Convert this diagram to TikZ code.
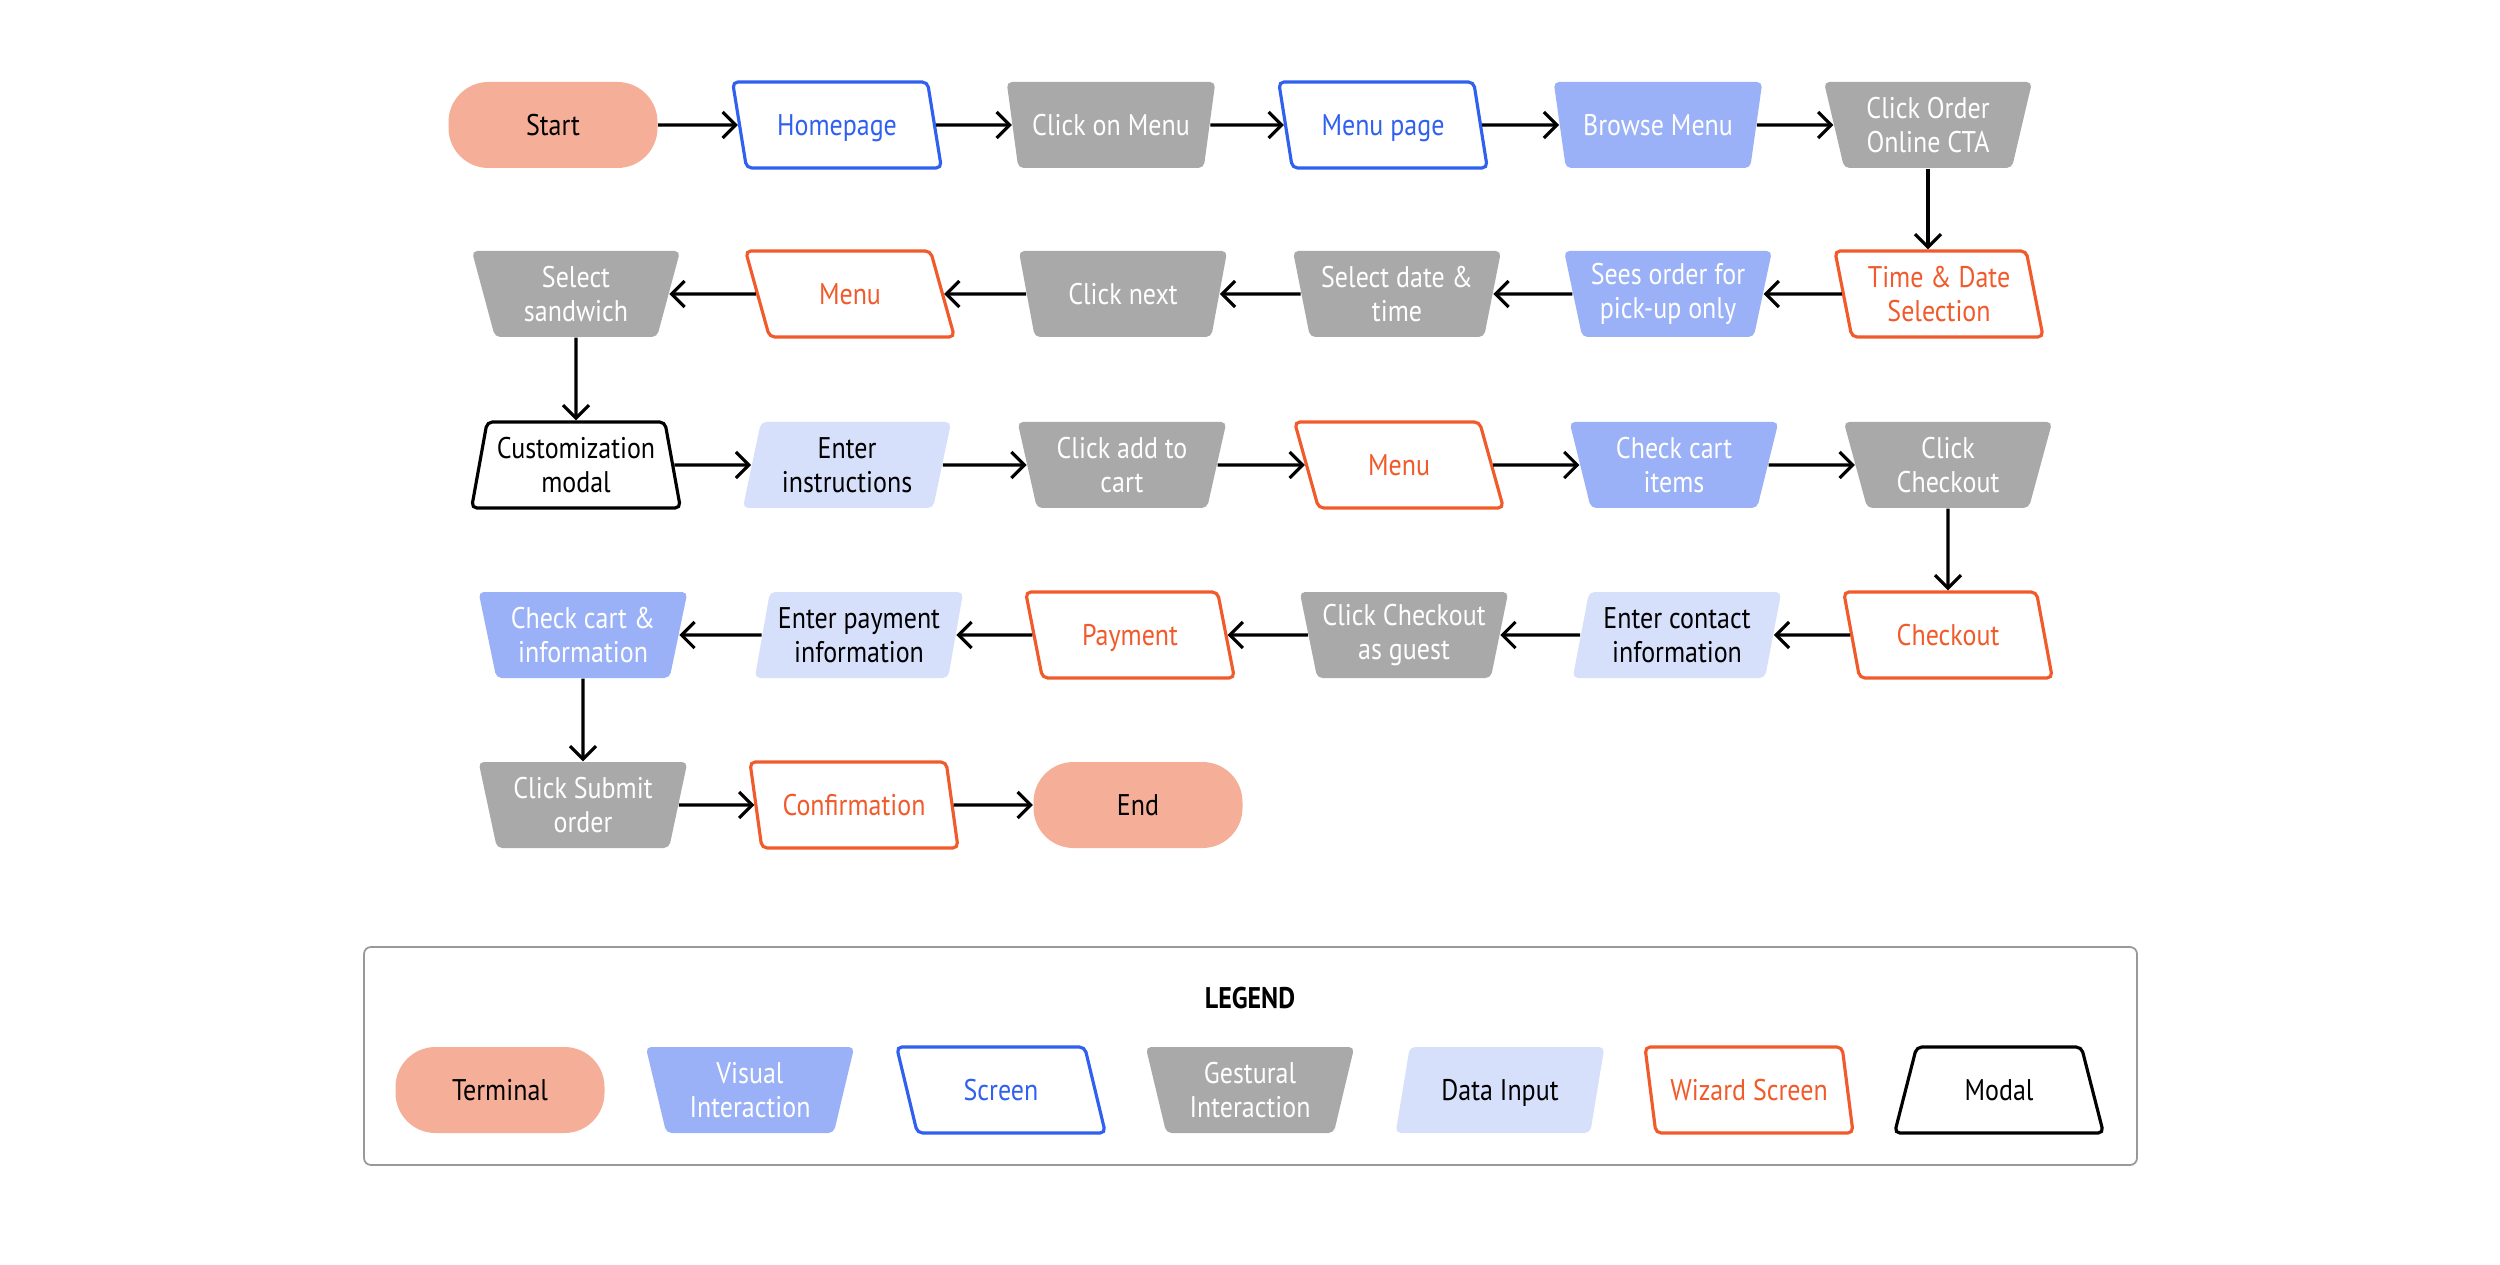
\documentclass[tikz,border=0pt]{standalone}
\usepackage{fontspec}
\setmainfont{PT Sans}[FakeStretch=0.87]
\usepackage{xcolor}
\usetikzlibrary{arrows.meta,shapes.geometric}
\definecolor{terminalfill}{HTML}{F5AF98}
\definecolor{visualfill}{HTML}{9AB1F7}
\definecolor{screenblue}{HTML}{3060F0}
\definecolor{gesturalgray}{HTML}{A9A9A9}
\definecolor{datafill}{HTML}{D7E0FB}
\definecolor{wizardorange}{HTML}{F15A2B}
\tikzset{
    >={Straight Barb[length=1.3mm,width=2.6mm]} % Default arrow tip
}
\tikzstyle{box}=[
    minimum width = 2.09cm,
    minimum height = 0.86cm,
    inner sep = 0cm,
    align = center,
    font = \fontsize{8.5}{9.6}\selectfont,
    rounded corners = 1.5pt
]
\tikzstyle{oneline}=[text height = 8.3pt, text depth = 2.2pt]
\tikzstyle{terminal}=[box, rectangle, rounded corners = 0.4cm, fill = terminalfill, text = black]
\tikzstyle{slanted}=[box, trapezium, trapezium stretches = true]
\tikzstyle{visual}=[slanted, trapezium left angle = 105, trapezium right angle = 105, fill = visualfill, text = white]
\tikzstyle{screen}=[slanted, trapezium left angle = 104, trapezium right angle = 76, draw = screenblue, line width = 0.9pt, fill = white, text = screenblue]
\tikzstyle{gestural}=[slanted, trapezium left angle = 105, trapezium right angle = 105, fill = gesturalgray, text = white]
\tikzstyle{datainput}=[slanted, trapezium left angle = 76, trapezium right angle = 104, fill = datafill, text = black]
\tikzstyle{wizard}=[slanted, trapezium left angle = 104, trapezium right angle = 76, draw = wizardorange, line width = 0.9pt, fill = white, text = wizardorange]
\tikzstyle{modal}=[slanted, trapezium left angle = 76, trapezium right angle = 76, draw = black, line width = 0.9pt, fill = white, text = black]
\tikzstyle{flow}=[line width = 0.9pt, ->]
\tikzstyle{legendframe}=[draw = gray!80, line width = 0.5pt, rounded corners = 2pt]
\begin{document}
\begin{tikzpicture}
    \useasboundingbox (0, 0) rectangle (25, -12.65);

    % row 1
    \draw node [terminal, oneline] (start) at (5.53, -1.25) {Start};
    \draw node [screen, oneline] (home) at (8.37, -1.25) {Homepage};
    \draw node [gestural, oneline] (clickmenu) at (11.11, -1.25) {Click on Menu};
    \draw node [screen, oneline] (menupage) at (13.83, -1.25) {Menu page};
    \draw node [visual, oneline] (browse) at (16.58, -1.25) {Browse Menu};
    \draw node [gestural] (order) at (19.28, -1.25) {Click Order\\Online CTA};

    % row 2
    \draw node [wizard] (timedate) at (19.39, -2.94) {Time \& Date\\Selection};
    \draw node [visual] (pickup) at (16.68, -2.94) {Sees order for\\pick-up only};
    \draw node [gestural] (selectdate) at (13.97, -2.94) {Select date \&\\time};
    \draw node [gestural, oneline] (clicknext) at (11.23, -2.94) {Click next};
    \draw node [wizard, oneline] (menua) at (8.50, -2.94) {Menu};
    \draw node [gestural] (sandwich) at (5.76, -2.94) {Select\\sandwich};

    % row 3
    \draw node [modal] (custom) at (5.76, -4.65) {Customization\\modal};
    \draw node [datainput] (instr) at (8.47, -4.65) {Enter\\instructions};
    \draw node [gestural] (addcart) at (11.22, -4.65) {Click add to\\cart};
    \draw node [wizard, oneline] (menub) at (13.99, -4.65) {Menu};
    \draw node [visual] (checkitems) at (16.74, -4.65) {Check cart\\items};
    \draw node [gestural] (clickcheckout) at (19.48, -4.65) {Click\\Checkout};

    % row 4
    \draw node [wizard, oneline] (checkout) at (19.48, -6.35) {Checkout};
    \draw node [datainput] (contact) at (16.77, -6.35) {Enter contact\\information};
    \draw node [gestural] (guest) at (14.04, -6.35) {Click Checkout\\as guest};
    \draw node [wizard, oneline] (payment) at (11.30, -6.35) {Payment};
    \draw node [datainput] (payinfo) at (8.59, -6.35) {Enter payment\\information};
    \draw node [visual] (checkinfo) at (5.83, -6.35) {Check cart \&\\information};

    % row 5
    \draw node [gestural] (submit) at (5.83, -8.05) {Click Submit\\order};
    \draw node [wizard, oneline] (confirm) at (8.54, -8.05) {Confirmation};
    \draw node [terminal, oneline] (finish) at (11.38, -8.05) {End};

    \draw [flow] (start) -- (home);
    \draw [flow] (home) -- (clickmenu);
    \draw [flow] (clickmenu) -- (menupage);
    \draw [flow] (menupage) -- (browse);
    \draw [flow] (browse) -- (order);
    \draw [flow] (order.south) -- (order.south |- timedate.north);
    \draw [flow] (timedate) -- (pickup);
    \draw [flow] (pickup) -- (selectdate);
    \draw [flow] (selectdate) -- (clicknext);
    \draw [flow] (clicknext) -- (menua);
    \draw [flow] (menua) -- (sandwich);
    \draw [flow] (sandwich) -- (custom);
    \draw [flow] (custom) -- (instr);
    \draw [flow] (instr) -- (addcart);
    \draw [flow] (addcart) -- (menub);
    \draw [flow] (menub) -- (checkitems);
    \draw [flow] (checkitems) -- (clickcheckout);
    \draw [flow] (clickcheckout) -- (checkout);
    \draw [flow] (checkout) -- (contact);
    \draw [flow] (contact) -- (guest);
    \draw [flow] (guest) -- (payment);
    \draw [flow] (payment) -- (payinfo);
    \draw [flow] (payinfo) -- (checkinfo);
    \draw [flow] (checkinfo) -- (submit);
    \draw [flow] (submit) -- (confirm);
    \draw [flow] (confirm) -- (finish);

    % legend
    \draw [legendframe] (3.64, -9.47) rectangle (21.37, -11.65);
    \draw node [font = \bfseries\fontsize{8.5}{9.6}\selectfont] (legendtitle) at (12.50, -9.98) {LEGEND};
    \draw node [terminal, oneline] (legterminal) at (5.00, -10.90) {Terminal};
    \draw node [visual] (legvisual) at (7.50, -10.90) {Visual\\Interaction};
    \draw node [screen, oneline] (legscreen) at (10.01, -10.90) {Screen};
    \draw node [gestural] (leggestural) at (12.50, -10.90) {Gestural\\Interaction};
    \draw node [datainput, oneline] (legdata) at (15.00, -10.90) {Data Input};
    \draw node [wizard, oneline] (legwizard) at (17.49, -10.90) {Wizard Screen};
    \draw node [modal, oneline] (legmodal) at (19.99, -10.90) {Modal};
\end{tikzpicture}
\end{document}
